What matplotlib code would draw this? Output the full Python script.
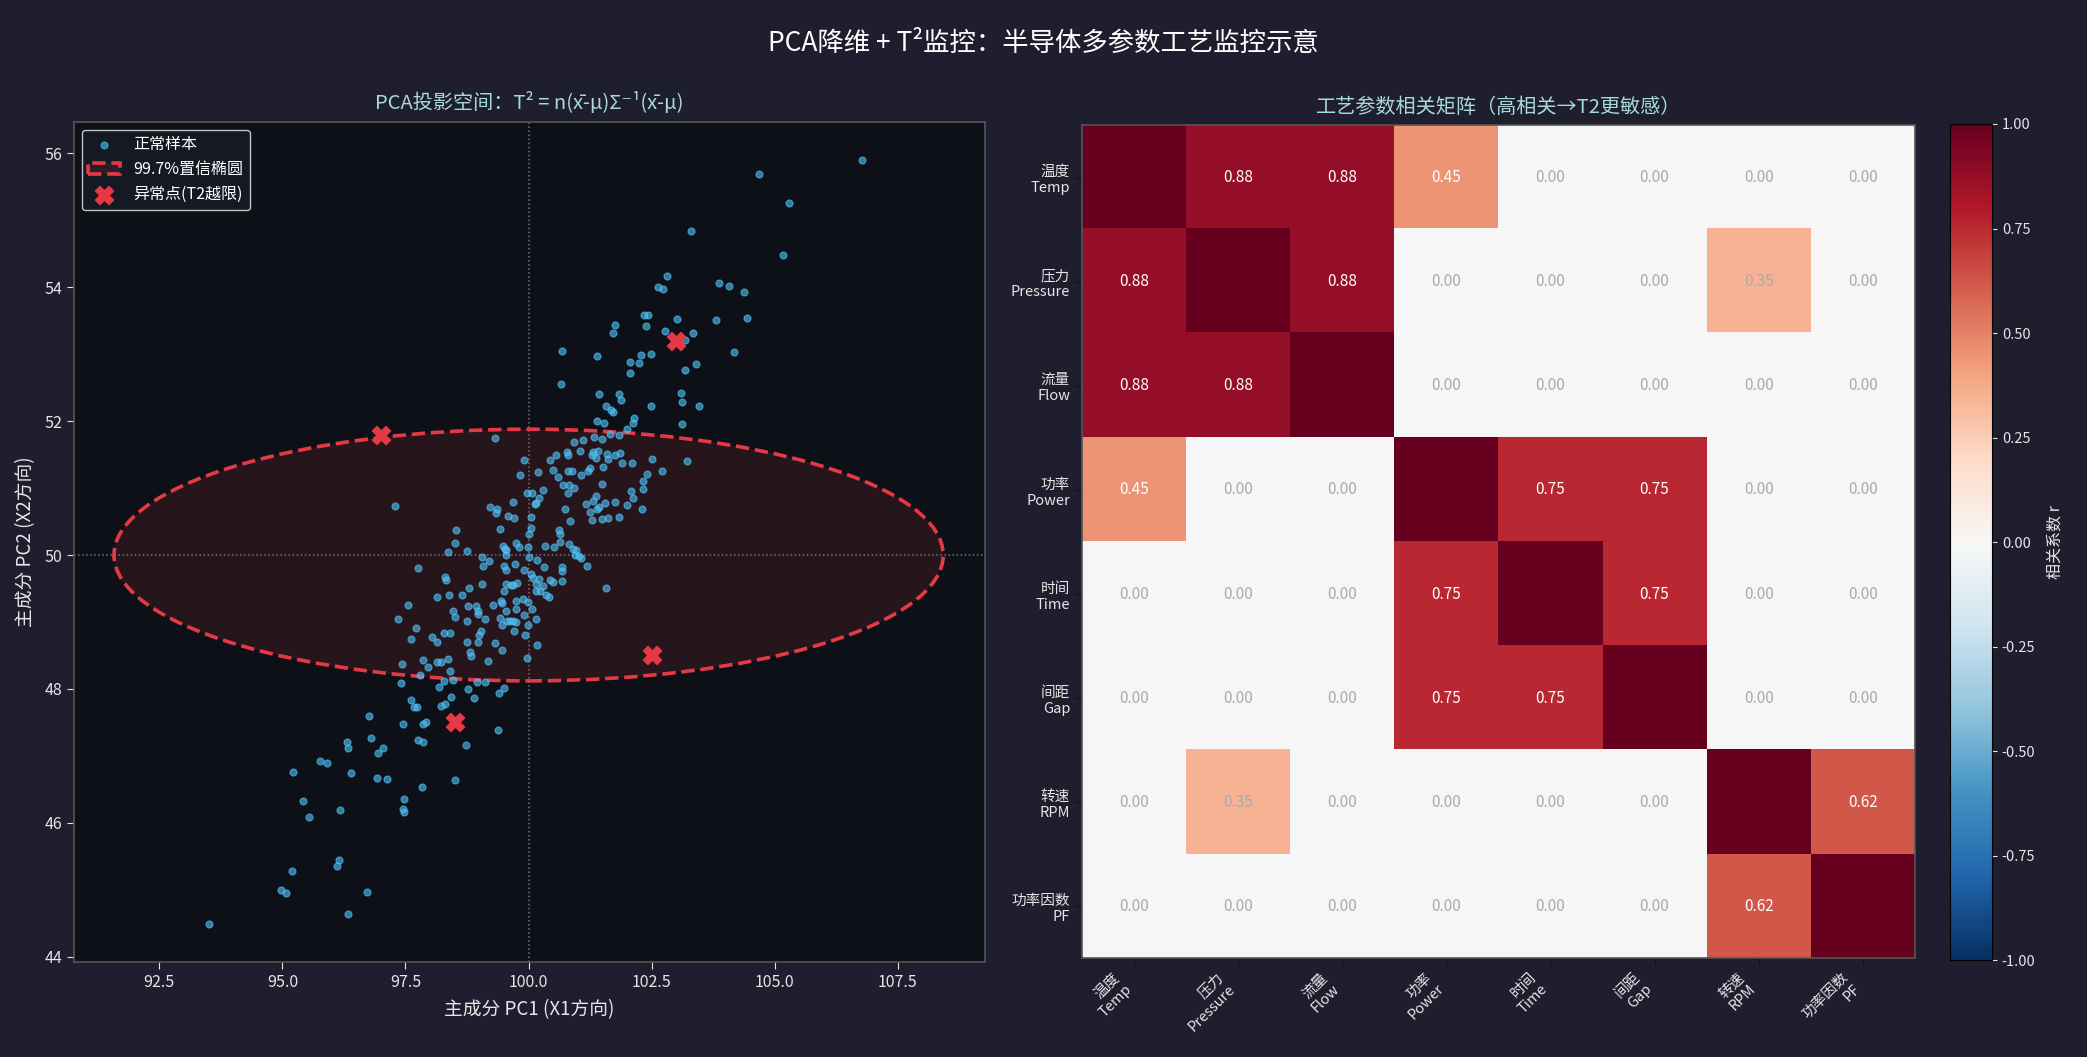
import matplotlib
matplotlib.use('Agg')
import matplotlib.pyplot as plt
from matplotlib.patches import Ellipse
import numpy as np

plt.rcParams['font.family'] = ['Noto Sans CJK SC', 'DejaVu Sans']
plt.rcParams['axes.unicode_minus'] = False

# ---------------- data ----------------
normal_samples = [
    (106.77, 55.90), (104.68, 55.69), (105.29, 55.26), (103.30, 54.84), (105.17, 54.48),
    (102.81, 54.17), (102.62, 54.01), (102.73, 53.97), (103.87, 54.06), (104.07, 54.02),
    (104.37, 53.93), (102.35, 53.59), (102.42, 53.59), (103.02, 53.53), (103.81, 53.51),
    (104.44, 53.54), (101.75, 53.43), (102.39, 53.42), (101.72, 53.31), (102.78, 53.34),
    (103.34, 53.32), (103.17, 53.22), (100.68, 53.05), (101.39, 52.97), (102.29, 52.99),
    (102.49, 53.00), (102.06, 52.88), (102.24, 52.87), (104.18, 53.03), (102.06, 52.72),
    (103.39, 52.85), (103.18, 52.76), (100.66, 52.55), (101.43, 52.40), (101.84, 52.41),
    (101.88, 52.32), (101.57, 52.22), (101.68, 52.17), (101.72, 52.14), (102.49, 52.22),
    (103.09, 52.42), (103.12, 52.29), (103.46, 52.22), (102.14, 52.05),
    (101.38, 52.00), (101.53, 51.98), (102.12, 51.98), (103.11, 51.96), (99.32, 51.75),
    (101.33, 51.77), (101.49, 51.74), (101.65, 51.81), (101.84, 51.79), (102.00, 51.89),
    (100.92, 51.69), (101.10, 51.72), (100.56, 51.50), (100.44, 51.42), (100.78, 51.54),
    (100.80, 51.49), (101.05, 51.55), (101.31, 51.54), (101.28, 51.49), (101.41, 51.55),
    (101.36, 51.45), (101.59, 51.51), (101.62, 51.43), (101.75, 51.49), (101.86, 51.53),
    (101.90, 51.38), (102.10, 51.38), (102.51, 51.44), (103.22, 51.41), (99.91, 51.42),
    (100.19, 51.24), (99.83, 51.19), (100.50, 51.27), (100.60, 51.17), (100.81, 51.26),
    (100.88, 51.26), (101.07, 51.20), (101.21, 51.25), (101.24, 51.30), (101.51, 51.32),
    (102.41, 51.21), (102.71, 51.25), (102.33, 51.11), (100.70, 51.05), (100.82, 51.05),
    (100.93, 51.00), (100.80, 50.93), (101.49, 51.06), (102.33, 50.99), (102.08, 50.96),
    (102.12, 50.85), (100.30, 50.97), (99.97, 50.93), (100.06, 50.93), (100.21, 50.85),
    (100.15, 50.78), (100.13, 50.76), (99.69, 50.79), (99.21, 50.72), (99.36, 50.69),
    (99.34, 50.63), (99.58, 50.58), (99.71, 50.55), (101.16, 50.76), (101.30, 50.80),
    (101.37, 50.88), (101.56, 50.78), (101.76, 50.79), (102.00, 50.75), (102.31, 50.69),
    (101.24, 50.65), (101.39, 50.69), (101.43, 50.72), (101.29, 50.53), (101.49, 50.54),
    (101.62, 50.55), (101.84, 50.57), (100.74, 50.69), (100.84, 50.51), (100.05, 50.57),
    (100.05, 50.41), (100.01, 50.32), (99.42, 50.39), (98.53, 50.38), (100.62, 50.37),
    (100.64, 50.32), (100.63, 50.19), (98.51, 50.18), (98.75, 50.06), (98.36, 50.04),
    (99.49, 50.14), (99.52, 50.09), (99.55, 50.07), (99.75, 50.18), (99.81, 50.12),
    (99.99, 50.12), (100.34, 50.14), (100.52, 50.12), (100.82, 50.16), (100.91, 50.09),
    (100.97, 50.08), (101.03, 49.98), (99.54, 50.00), (100.00, 49.97), (100.94, 50.00),
    (99.06, 49.97), (97.28, 50.73),
    (99.20, 49.91), (99.08, 49.84), (100.17, 49.92), (100.32, 49.82), (101.06, 49.95),
    (100.67, 49.82), (100.67, 49.76), (101.19, 49.84), (99.51, 49.84), (99.55, 49.77),
    (99.72, 49.86), (99.90, 49.77), (97.75, 49.80), (98.30, 49.67), (98.32, 49.62),
    (100.04, 49.71), (100.09, 49.66), (100.21, 49.64), (100.16, 49.57), (100.30, 49.53),
    (100.43, 49.63), (100.49, 49.60), (100.68, 49.61), (99.55, 49.57), (99.64, 49.55),
    (99.69, 49.55), (99.77, 49.58), (99.05, 49.56), (98.79, 49.50), (98.65, 49.41),
    (98.38, 49.41), (98.14, 49.37), (100.16, 49.47), (100.23, 49.47), (100.36, 49.41),
    (100.42, 49.38), (101.58, 49.51), (99.50, 49.46), (99.44, 49.32), (99.46, 49.29),
    (99.75, 49.31), (99.89, 49.35), (99.99, 49.30), (100.07, 49.19), (98.94, 49.24),
    (98.77, 49.24), (98.98, 49.16), (98.98, 49.12), (99.11, 49.05), (99.28, 49.25),
    (99.55, 49.17), (99.75, 49.19), (99.90, 49.10), (100.15, 49.04), (99.98, 48.96),
    (97.55, 49.26), (98.46, 49.16), (98.51, 49.08), (98.74, 49.02), (97.35, 49.05),
    (99.41, 49.06), (99.45, 48.95), (99.56, 49.01), (99.63, 49.01), (99.69, 49.02),
    (99.74, 49.00), (99.70, 48.87), (99.93, 48.81), (97.71, 48.91), (97.61, 48.75),
    (98.03, 48.77), (98.14, 48.70), (98.28, 48.83), (98.41, 48.83), (98.75, 48.70),
    (98.99, 48.80), (99.04, 48.86), (98.98, 48.70), (99.32, 48.68), (99.46, 48.58),
    (100.17, 48.65), (98.80, 48.55), (98.84, 48.49), (99.18, 48.41), (99.96, 48.46),
    (97.43, 48.37), (97.85, 48.43), (97.96, 48.32), (98.13, 48.40), (98.22, 48.40),
    (98.36, 48.44), (98.40, 48.27), (97.79, 48.21),
    (97.41, 48.09), (98.18, 48.03), (98.28, 48.12), (98.47, 48.14), (98.77, 48.00),
    (98.95, 48.10), (99.12, 48.10), (98.89, 47.87), (99.40, 47.94), (99.50, 48.02),
    (97.61, 47.84), (97.68, 47.73), (97.73, 47.73), (98.22, 47.75), (98.30, 47.78),
    (98.43, 47.88), (96.76, 47.60), (97.45, 47.47), (97.86, 47.48), (97.92, 47.50),
    (99.38, 47.39), (96.31, 47.21), (96.33, 47.11), (96.80, 47.27), (97.04, 47.11),
    (96.94, 47.04), (97.76, 47.24), (97.86, 47.21), (98.73, 47.16), (95.76, 46.93),
    (95.91, 46.90), (96.39, 46.74), (96.92, 46.67), (97.12, 46.66), (97.84, 46.54),
    (98.50, 46.64), (97.47, 46.35), (97.45, 46.21),
    (95.21, 46.76), (95.42, 46.32), (96.16, 46.19), (97.47, 46.16), (95.54, 46.09),
    (96.15, 45.45), (96.10, 45.36), (95.19, 45.28), (94.97, 45.00), (95.07, 44.95),
    (96.71, 44.96), (96.33, 44.64), (93.51, 44.48),
]
outlier_pc1 = [97.0, 103.0, 102.5, 98.5]
outlier_pc2 = [51.8, 53.2, 48.5, 47.5]
ellipse_center = (100.0, 50.0)
ellipse_width = 16.84
ellipse_height = 3.76

params_cn = ['温度', '压力', '流量', '功率', '时间', '间距', '转速', '功率因数']
params_en = ['Temp', 'Pressure', 'Flow', 'Power', 'Time', 'Gap', 'RPM', 'PF']
corr_matrix = [
    [1.00, 0.88, 0.88, 0.45, 0.00, 0.00, 0.00, 0.00],
    [0.88, 1.00, 0.88, 0.00, 0.00, 0.00, 0.35, 0.00],
    [0.88, 0.88, 1.00, 0.00, 0.00, 0.00, 0.00, 0.00],
    [0.45, 0.00, 0.00, 1.00, 0.75, 0.75, 0.00, 0.00],
    [0.00, 0.00, 0.00, 0.75, 1.00, 0.75, 0.00, 0.00],
    [0.00, 0.00, 0.00, 0.75, 0.75, 1.00, 0.00, 0.00],
    [0.00, 0.35, 0.00, 0.00, 0.00, 0.00, 1.00, 0.62],
    [0.00, 0.00, 0.00, 0.00, 0.00, 0.00, 0.62, 1.00],
]

# ---------------- style ----------------
FIG_BG = '#1e1e2e'
AX_BG = '#0d1117'
SPINE = '#555555'
TXT = '#e6e6e6'
TITLE_C = '#a8dadc'
RED = '#e63946'
BLUE = '#4fc3f7'

fig = plt.figure(figsize=(20.87, 10.57), dpi=100, facecolor=FIG_BG)

# ---------------- left: PCA scatter ----------------
ax1 = fig.add_axes([0.0355, 0.0899, 0.4365, 0.7947])
ax1.set_facecolor(AX_BG)
pc1 = [p[0] for p in normal_samples]
pc2 = [p[1] for p in normal_samples]

ell = Ellipse(ellipse_center, ellipse_width, ellipse_height,
              facecolor=(0.90, 0.22, 0.27, 0.12), edgecolor=RED,
              linewidth=2.6, linestyle='--', label='99.7%置信椭圆', zorder=2)
ax1.add_patch(ell)
ax1.scatter(pc1, pc2, s=24, c=BLUE, alpha=0.6, label='正常样本', zorder=3)
ax1.scatter(outlier_pc1, outlier_pc2, marker='X', s=170, c=RED,
            label='异常点(T2越限)', zorder=5)
ax1.axvline(ellipse_center[0], color='#8a8f98', linestyle=':', linewidth=1.1, alpha=0.8, zorder=1)
ax1.axhline(ellipse_center[1], color='#8a8f98', linestyle=':', linewidth=1.1, alpha=0.8, zorder=1)

ax1.set_xlim(90.77, 109.27)
ax1.set_ylim(43.92, 56.47)
xt = np.arange(92.5, 108, 2.5)
ax1.set_xticks(xt)
ax1.set_xticklabels([f'{v:.1f}' for v in xt])
ax1.set_yticks(np.arange(44, 57, 2))
for s in ax1.spines.values():
    s.set_color(SPINE)
    s.set_linewidth(1.2)
ax1.tick_params(colors=TXT, labelsize=11.5, length=5)
ax1.set_xlabel('主成分 PC1 (X1方向)', color=TXT, fontsize=13.5, labelpad=6)
ax1.set_ylabel('主成分 PC2 (X2方向)', color=TXT, fontsize=13.5, labelpad=6)
ax1.set_title('PCA投影空间：T² = n(x̄-μ)Σ⁻¹(x̄-μ)', color=TITLE_C, fontsize=14.5, pad=9)

handles, labels = ax1.get_legend_handles_labels()
order = [labels.index('正常样本'), labels.index('99.7%置信椭圆'), labels.index('异常点(T2越限)')]
leg = ax1.legend([handles[i] for i in order], [labels[i] for i in order],
                 loc='upper left', fontsize=11.5, facecolor='#161a24',
                 edgecolor='#cccccc', labelcolor='white', framealpha=0.95)

# ---------------- right: correlation heatmap ----------------
ax2 = fig.add_axes([0.5184, 0.0932, 0.3991, 0.7881])
corr = np.array(corr_matrix)
im = ax2.imshow(corr, cmap='RdBu_r', vmin=-1, vmax=1, aspect='auto')
n = len(params_cn)
for i in range(n):
    for j in range(n):
        if i == j:
            continue
        v = corr[i, j]
        ax2.text(j, i, f'{v:.2f}', ha='center', va='center', fontsize=11,
                 color='white' if abs(v) > 0.4 else '#aaaaaa')
tick_labels = [f'{c}\n{e}' for c, e in zip(params_cn, params_en)]
ax2.set_xticks(range(n))
ax2.set_xticklabels(tick_labels, rotation=45, ha='right', fontsize=10.5, color=TXT)
ax2.set_yticks(range(n))
ax2.set_yticklabels(tick_labels, fontsize=10.5, color=TXT)
ax2.tick_params(colors='#111111', labelcolor=TXT, length=5)
for s in ax2.spines.values():
    s.set_color(SPINE)
    s.set_linewidth(1.2)
ax2.set_title('工艺参数相关矩阵（高相关→T2更敏感）', color=TITLE_C, fontsize=14.5, pad=9)

cax = fig.add_axes([0.9344, 0.0913, 0.0201, 0.7914])
cb = fig.colorbar(im, cax=cax)
ct = np.arange(-1, 1.01, 0.25)
cb.set_ticks(ct)
cb.ax.set_yticklabels([f'{v:.2f}' for v in ct])
cb.ax.tick_params(colors=TXT, labelsize=10.5)
cb.outline.set_edgecolor('black')
cb.set_label('相关系数 r', color=TXT, fontsize=11.5, labelpad=8)

fig.suptitle('PCA降维 + T²监控：半导体多参数工艺监控示意', color='white', fontsize=19, y=0.972)

fig.savefig('out.png', dpi=100, facecolor=FIG_BG)
